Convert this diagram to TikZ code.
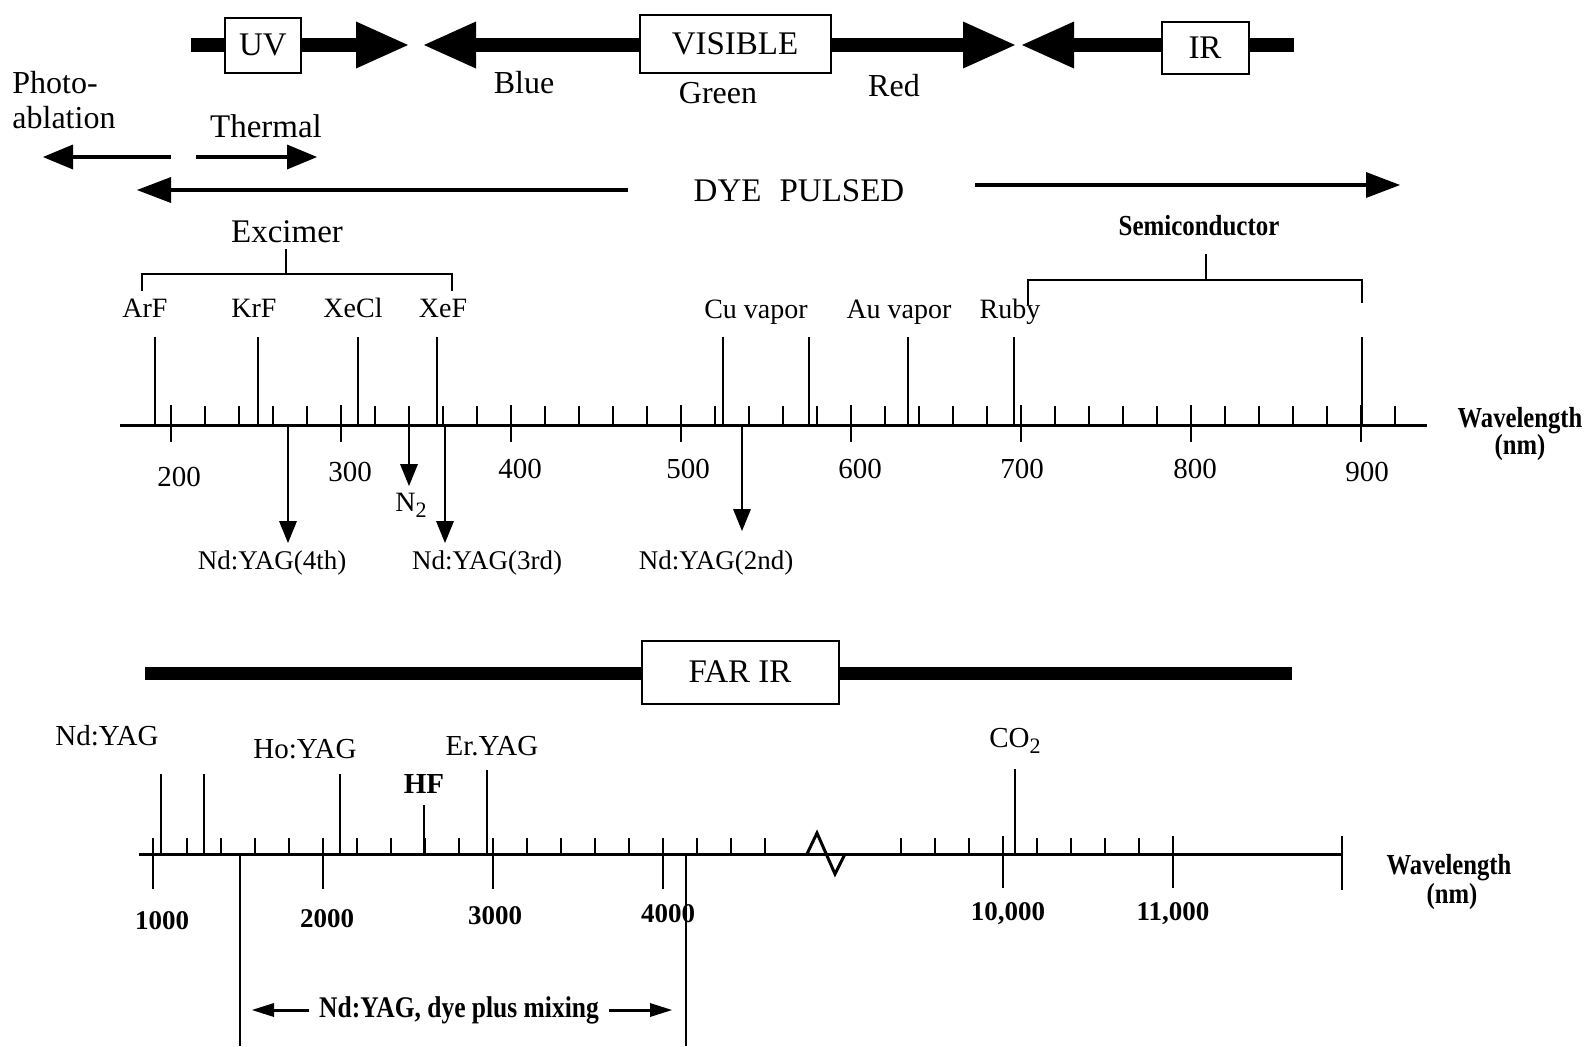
\documentclass[tikz,border=0pt]{standalone}
\usepackage{fontspec}
\setmainfont{Liberation Serif}
\usepackage{graphicx}
\usetikzlibrary{arrows.meta}
\tikzset{
  lbl/.style={inner sep=0pt, font=\fontsize{16}{18}\selectfont},
  sml/.style={inner sep=0pt, font=\fontsize{14}{16}\selectfont},
  num/.style={inner sep=0pt, font=\fontsize{14.5}{16}\selectfont},
  bnum/.style={inner sep=0pt, font=\fontsize{13.5}{15}\selectfont\bfseries},
  cond/.style={inner sep=0pt, font=\fontsize{14.5}{16}\selectfont\bfseries},
  box/.style={draw, line width=1pt, fill=white, inner sep=0pt, font=\fontsize{16.5}{18}\selectfont},
  bar/.style={line width=7pt},
  bighead/.style={-{Triangle[length=26pt,width=23.5pt,line width=0pt]}},
  midarrow/.style={line width=2pt, -{Triangle[length=15pt,width=12.5pt,line width=0pt]}},
  dyearrow/.style={line width=1.8pt, -{Triangle[length=17pt,width=13pt,line width=0pt]}},
  downarrow/.style={line width=1.2pt, -{Triangle[length=11pt,width=9pt,line width=0pt]}},
  mixarrow/.style={line width=1.5pt, -{Triangle[length=11pt,width=7pt,line width=0pt]}},
  axisline/.style={line width=1.5pt},
  tk/.style={line width=1.2pt},
  spec/.style={line width=1.2pt},
  brk/.style={line width=1pt},
}
\begin{document}
\begin{tikzpicture}[x=0.5pt,y=-0.5pt]
\useasboundingbox (0,0) rectangle (1592,1046);

% ---------- top band ----------
\coordinate (uvL) at (191,45);
\coordinate (uvT) at (408,45);
\coordinate (blT) at (424,45);
\coordinate (rdT) at (1015,45);
\coordinate (irT) at (1022,45);
\coordinate (irR) at (1294,45);
\draw[bar] (uvL) -- (263,45);
\draw[bar,bighead] (263,45) -- (uvT);
\draw[bar,bighead] (735,45) -- (blT);
\draw[bar,bighead] (735,45) -- (rdT);
\draw[bar,bighead] (1205,45) -- (irT);
\draw[bar] (1205,45) -- (irR);
\node[box, minimum width=38pt, minimum height=27.5pt] (uv) at (263,45) {UV};
\node[box, minimum width=95.5pt, minimum height=29pt] (vis) at (735,44) {VISIBLE};
\node[box, minimum width=43.5pt, minimum height=26pt] (ir) at (1205,48) {IR};

% ---------- second row ----------
\node[lbl, align=left, anchor=west, font=\fontsize{16}{17.5}\selectfont] (photo) at (12,100) {Photo-\\ablation};
\node[lbl] (blue) at (524,83) {Blue};
\node[lbl] (green) at (718,93) {Green};
\node[lbl] (red) at (894,86) {Red};
\node[lbl, font=\fontsize{16.5}{18}\selectfont] (thermal) at (266,126) {Thermal};
\coordinate (paR) at (171,157);
\coordinate (paL) at (43,157);
\coordinate (thL) at (196,157);
\coordinate (thR) at (317,157);
\draw[midarrow] (paR) -- (paL);
\draw[midarrow] (thL) -- (thR);

\node[lbl, font=\fontsize{16.5}{18}\selectfont] (dye) at (799,191) {DYE\hspace{0.55em}PULSED};
\coordinate (dyeL0) at (628,190);
\coordinate (dyeL1) at (137,190);
\coordinate (dyeR0) at (975,185);
\coordinate (dyeR1) at (1400,185);
\draw[dyearrow] (dyeL0) -- (dyeL1);
\draw[dyearrow] (dyeR0) -- (dyeR1);

% ---------- brackets ----------
\node[lbl, font=\fontsize{16.5}{18}\selectfont] (excimer) at (287,232) {Excimer};
\draw[brk] (142,291) -- (142,274) -- (452,274) -- (452,291);
\draw[brk] (286,274) -- (286,249);
\node[inner sep=0pt, font=\fontsize{14.5}{16}\selectfont\bfseries] (semi) at (1199,226) {\scalebox{0.86}[1]{Semiconductor}};
\draw[brk] (1028,305) -- (1028,280) -- (1362,280) -- (1362,303);
\draw[brk] (1206,280) -- (1206,254);

% ---------- top spectral labels ----------
\node[sml] (arf) at (145,308) {ArF};
\node[sml] (krf) at (254,308) {KrF};
\node[sml] (xecl) at (353,308) {XeCl};
\node[sml] (xef) at (443,308) {XeF};
\node[sml] (cu) at (756,312) {Cu vapor};
\node[sml] (au) at (899,312) {Au vapor};
\node[sml] (ruby) at (1010,312) {Ruby};

% ---------- top axis ----------
\draw[axisline] (120,425) -- (1427,425);
\foreach \l in {200,220,...,920} {
  \pgfmathsetmacro\xx{171+(\l-200)*1.7}
  \draw[tk] (\xx,425) -- (\xx,406);
}
\foreach \l in {200,300,...,900} {
  \pgfmathsetmacro\xx{171+(\l-200)*1.7}
  \draw[tk] (\xx,405) -- (\xx,442);
}
\foreach \xx in {155,258,358,437,723,809,908,1014,1362} {
  \draw[spec] (\xx,425) -- (\xx,337);
}
% down arrows
\draw[downarrow] (288,425) -- (288,543);
\draw[downarrow] (409,425) -- (409,486);
\draw[downarrow] (445,425) -- (445,543);
\draw[downarrow] (742,425) -- (742,531);
\node[sml, font=\fontsize{13.5}{15}\selectfont] (y4) at (272,563) {Nd:YAG(4th)};
\node[sml] (n2) at (411,505) {N\raisebox{-0.45ex}{\fontsize{11}{11}\selectfont 2}};
\node[sml, font=\fontsize{13.5}{15}\selectfont] (y3) at (487,563) {Nd:YAG(3rd)};
\node[sml, font=\fontsize{13.5}{15}\selectfont] (y2) at (716,563) {Nd:YAG(2nd)};

% top axis numbers
\node[num] (t200) at (179,477) {200};
\node[num] (t300) at (350,472) {300};
\node[num] (t400) at (520,469) {400};
\node[num] (t500) at (688,469) {500};
\node[num] (t600) at (860,469) {600};
\node[num] (t700) at (1022,469) {700};
\node[num] (t800) at (1195,469) {800};
\node[num] (t900) at (1367,472) {900};
\node[cond] (wl1) at (1520,421) {\scalebox{0.85}[1]{Wavelength}};
\node[cond] (wl1b) at (1520,448) {\scalebox{0.85}[1]{(nm)}};

% ---------- FAR IR band ----------
\coordinate (fL) at (145,673);
\coordinate (fR) at (1292,673);
\draw[line width=6.5pt] (fL) -- (fR);
\node[box, minimum width=98.5pt, minimum height=31.5pt] (farir) at (740,672) {FAR IR};

% ---------- bottom labels ----------
\node[num] (ndyag) at (107,736) {Nd:YAG};
\node[num] (hoyag) at (305,749) {Ho:YAG};
\node[num] (eryag) at (492,746) {Er.YAG};
\node[num, font=\fontsize{14.5}{16}\selectfont\bfseries] (hf) at (424,784) {HF};
\node[num] (co2) at (1015,741) {CO\raisebox{-0.45ex}{\fontsize{11}{11}\selectfont 2}};

% ---------- bottom axis ----------
\draw[axisline] (139,854) -- (1342,854);
\foreach \l in {1000,1200,...,4600} {
  \pgfmathsetmacro\xx{153+(\l-1000)*0.17}
  \draw[tk] (\xx,854) -- (\xx,838);
}
\foreach \l in {1000,2000,3000,4000} {
  \pgfmathsetmacro\xx{153+(\l-1000)*0.17}
  \draw[tk] (\xx,838) -- (\xx,889);
}
\foreach \l in {9400,9600,...,11000} {
  \pgfmathsetmacro\xx{1003+(\l-10000)*0.17}
  \draw[tk] (\xx,854) -- (\xx,838);
}
\foreach \xx in {1003,1173} {
  \draw[tk] (\xx,836) -- (\xx,888);
}
\draw[tk] (1342,836) -- (1342,890);
\draw[axisline, line join=miter] (807,854) -- (817,833) -- (835,874) -- (845,854);
% spectral lines bottom
\draw[spec] (161,854) -- (161,774);
\draw[spec] (204,854) -- (204,774);
\draw[spec] (340,854) -- (340,774);
\draw[spec] (424,854) -- (424,805);
\draw[spec] (487,854) -- (487,770);
\draw[spec] (1015,854) -- (1015,769);
% mixing boundaries
\draw[spec] (240,856) -- (240,1046);
\draw[spec] (686,856) -- (686,1046);

% bottom numbers
\node[bnum] (b1000) at (162,921) {1000};
\node[bnum] (b2000) at (327,919) {2000};
\node[bnum] (b3000) at (495,916) {3000};
\node[bnum] (b4000) at (668,914) {4000};
\node[bnum] (b10000) at (1008,914) {10,000};
\node[bnum] (b11000) at (1173,914) {11,000};
\node[cond] (wl2) at (1449,868) {\scalebox{0.85}[1]{Wavelength}};
\node[cond] (wl2b) at (1452,897) {\scalebox{0.85}[1]{(nm)}};

% mixing label
\node[cond, font=\fontsize{15}{16}\selectfont\bfseries] (mix) at (459,1010) {\scalebox{0.85}[1]{Nd:YAG, dye plus mixing}};
\draw[mixarrow] (mix.west) ++(-5pt,0) -- (252,1010);
\draw[mixarrow] (mix.east) ++(5pt,0) -- (672,1010);
\end{tikzpicture}
\end{document}
